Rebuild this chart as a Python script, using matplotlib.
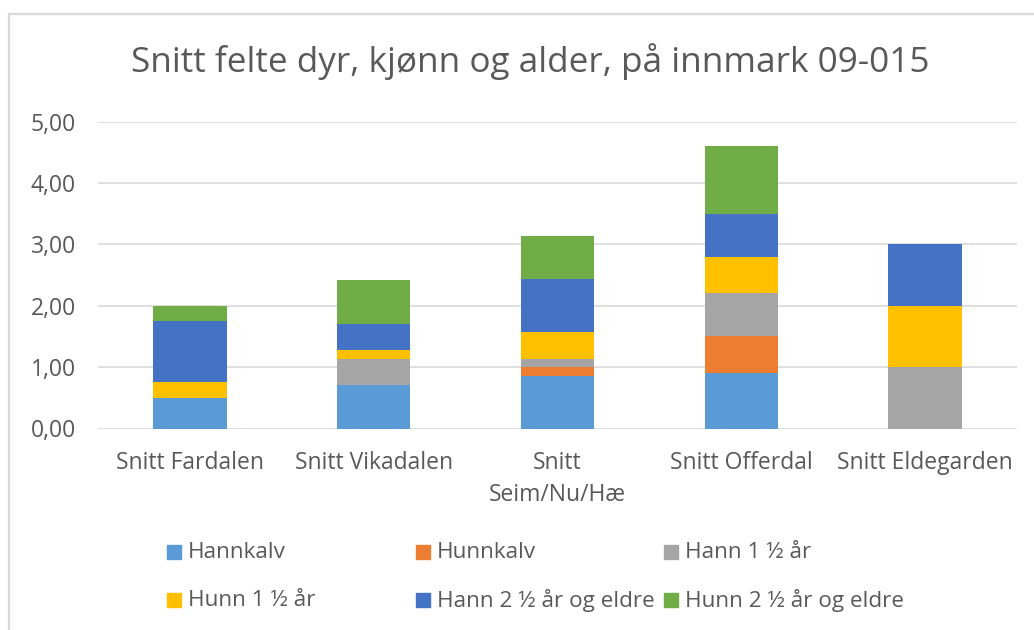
import matplotlib
matplotlib.use("Agg")
import matplotlib.pyplot as plt
from matplotlib.patches import Rectangle
from matplotlib.lines import Line2D
import numpy as np

plt.rcParams['font.family'] = ['Open Sans', 'DejaVu Sans']

categories = ["Snitt Fardalen", "Snitt Vikadalen", "Snitt\nSeim/Nu/Hæ", "Snitt Offerdal", "Snitt Eldegarden"]
series_names = ["Hannkalv", "Hunnkalv", "Hann 1 ½ år", "Hunn 1 ½ år",
                 "Hann 2 ½ år og eldre", "Hunn 2 ½ år og eldre"]
hannkalv   = [0.50, 0.71, 0.86, 0.90, 0.00]
hunnkalv   = [0.00, 0.00, 0.14, 0.60, 0.00]
hann_1_5   = [0.00, 0.43, 0.14, 0.70, 1.00]
hunn_1_5   = [0.25, 0.14, 0.43, 0.60, 1.00]
hann_2_5   = [1.00, 0.43, 0.86, 0.70, 1.00]
hunn_2_5   = [0.25, 0.71, 0.71, 1.10, 0.00]
series = [hannkalv, hunnkalv, hann_1_5, hunn_1_5, hann_2_5, hunn_2_5]
colors = ["#5B9BD5", "#ED7D31", "#A5A5A5", "#FFC000", "#4472C4", "#70AD47"]
yticks = [0, 1, 2, 3, 4, 5]

TXT = "#595959"
W, H = 1034, 630
fig = plt.figure(figsize=(W / 100, H / 100), dpi=100)
fig.patch.set_facecolor("white")

def fx(px):
    return px / W

def fy(py):
    return 1 - py / H

# chart frame (cut off at right and bottom)
fig.add_artist(Line2D([fx(9), fx(9)], [fy(14), 0], color="#D9D9D9", lw=1.6, transform=fig.transFigure))
fig.add_artist(Line2D([fx(9), 1], [fy(14), fy(14)], color="#D9D9D9", lw=1.6, transform=fig.transFigure))

ax_l, ax_r, ax_t, ax_b = 98, 1017, 121.5, 428.5
ax = fig.add_axes([fx(ax_l), fy(ax_b), fx(ax_r - ax_l), (ax_b - ax_t) / H])

x = np.arange(len(categories))
bottom = np.zeros(len(categories))
for name, vals, c in zip(series_names, series, colors):
    v = np.array(vals)
    ax.bar(x, v, 0.40, bottom=bottom, color=c, label=name, zorder=3)
    bottom += v

ax.set_xlim(-0.5, len(categories) - 0.5)
ax.set_ylim(0, 5)
ax.set_yticks(yticks)
ax.set_yticklabels([f"{t:.2f}".replace(".", ",") for t in yticks])
ax.set_xticks(x)
ax.set_xticklabels(categories, linespacing=1.42)
ax.grid(axis="y", color="#D9D9D9", lw=1.2, zorder=0)
for s in ax.spines.values():
    s.set_visible(False)
ax.tick_params(axis="both", length=0, colors=TXT, labelsize=16.5)
ax.tick_params(axis="y", pad=16)
ax.tick_params(axis="x", pad=16.5)
for lab in ax.get_xticklabels() + ax.get_yticklabels():
    lab.set_color(TXT)

fig.text(fx(530.5), fy(62), "Snitt felte dyr, kjønn og alder, på innmark 09-015",
         ha="center", va="center", fontsize=25.3, color=TXT)

# legend (row-major, 3 columns)
col_x = [168, 417, 665]
row_y = [552, 600]
for i, (name, c) in enumerate(zip(series_names, colors)):
    r, k = divmod(i, 3)
    mx, my = col_x[k], row_y[r]
    fig.add_artist(Rectangle((fx(mx - 1), fy(my + 7)), 14 / W, 14 / H, color=c,
                             transform=fig.transFigure))
    fig.text(fx(mx + 20), fy(my), name, ha="left", va="center", fontsize=16.2, color=TXT)

fig.savefig("out.png", dpi=100, facecolor="white")
